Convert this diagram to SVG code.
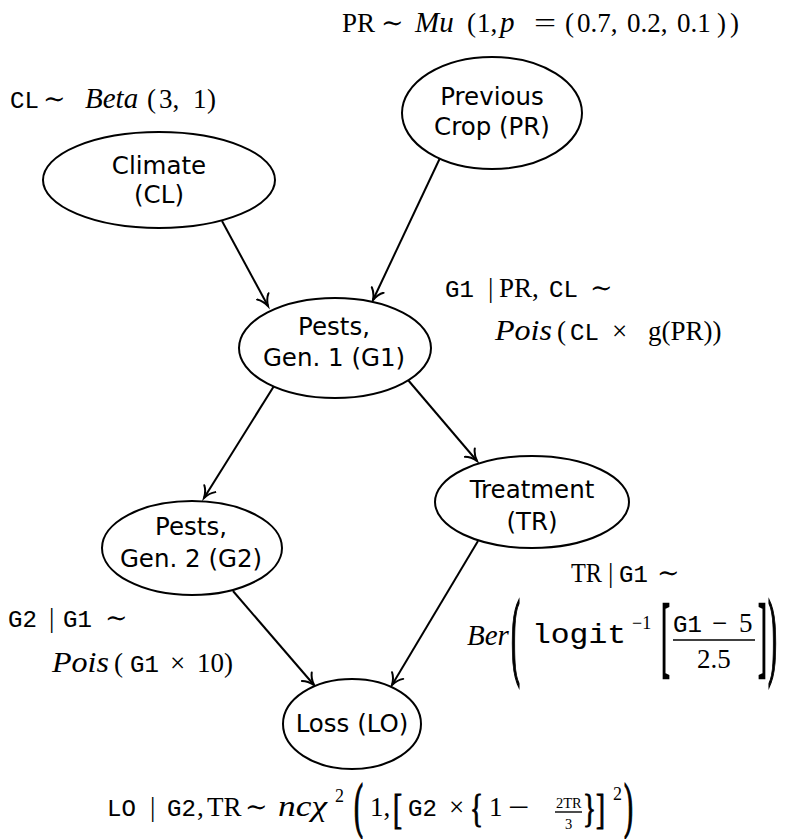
<svg xmlns="http://www.w3.org/2000/svg" width="788" height="839" viewBox="0 0 788 839">
  <style>
    .node ellipse { fill: #ffffff; stroke: #000000; stroke-width: 2; }
    .node text { font-family: "DejaVu Sans", "Noto Sans", sans-serif; font-size: 24.5px; text-anchor: middle; fill: #000000; }
    .edge { stroke: #000000; stroke-width: 2; fill: none; marker-end: url(#arrow); }
    .m text { font-family: "Liberation Serif", "DejaVu Serif", serif; font-size: 27px; fill: #000000; }
    .m text.i { font-style: italic; font-size: 29px; }
    .m text.tt { font-family: "Liberation Mono", "DejaVu Sans Mono", monospace; font-size: 24px; stroke: #000000; stroke-width: 0.12; }
    .m text.sup { font-size: 18px; }
    .m text.small { font-size: 14.5px; }
    .m text.big { stroke: #000000; stroke-width: 0.7; }
    .rule { stroke: #000000; stroke-width: 1.4; }
  </style>
  <defs>
    <marker id="arrow" markerUnits="userSpaceOnUse" markerWidth="16" markerHeight="16" viewBox="-12 -8 16 16" refX="0" refY="0" orient="auto">
      <path d="M-11,-6.5 C-8,-3 -3,-0.8 0,0 C-3,0.8 -8,3 -11,6.5" fill="none" stroke="#000000" stroke-width="2" stroke-linecap="round"/>
    </marker>
  </defs>

  <rect width="788" height="839" fill="#ffffff"/>

  <!-- connectors -->
  <g id="edges">
    <line class="edge" x1="222" y1="221" x2="268" y2="306"/>
    <line class="edge" x1="440" y1="158" x2="373" y2="300"/>
    <line class="edge" x1="274" y1="386" x2="204" y2="498"/>
    <line class="edge" x1="408" y1="380" x2="477" y2="461"/>
    <line class="edge" x1="233" y1="591" x2="314" y2="685"/>
    <line class="edge" x1="478" y1="541" x2="392" y2="685"/>
  </g>

  <!-- nodes -->
  <g id="node-CL" class="node">
    <ellipse cx="159" cy="180" rx="116" ry="48"/>
    <text x="159" y="174">Climate</text>
    <text x="159" y="203">(CL)</text>
  </g>
  <g id="node-PR" class="node">
    <ellipse cx="492" cy="113" rx="90" ry="56"/>
    <text x="492" y="105">Previous</text>
    <text x="492" y="135">Crop (PR)</text>
  </g>
  <g id="node-G1" class="node">
    <ellipse cx="335" cy="348" rx="96" ry="50"/>
    <text x="334" y="335">Pests,</text>
    <text x="334" y="366">Gen. 1 (G1)</text>
  </g>
  <g id="node-TR" class="node">
    <ellipse cx="532" cy="502" rx="97" ry="46"/>
    <text x="532" y="498">Treatment</text>
    <text x="532" y="530">(TR)</text>
  </g>
  <g id="node-G2" class="node">
    <ellipse cx="192" cy="548" rx="90" ry="47"/>
    <text x="191" y="535">Pests,</text>
    <text x="191" y="567">Gen. 2 (G2)</text>
  </g>
  <g id="node-LO" class="node">
    <ellipse cx="352" cy="724" rx="69" ry="45"/>
    <text x="352" y="732">Loss (LO)</text>
  </g>

  <!-- PR ~ Mu(1, p = (0.7, 0.2, 0.1)) -->
  <g id="dist-PR" class="m">
    <text x="342" y="32">PR</text>
    <text x="381" y="32">∼</text>
    <text class="i" x="415" y="32">Mu</text>
    <text x="467" y="32">(</text>
    <text x="477" y="32">1,</text>
    <text class="i" x="500" y="32">p</text>
    <text x="0" y="0" transform="translate(534,32) scale(1.45,1)">=</text>
    <text x="565" y="32">(</text>
    <text x="577" y="32">0.7,</text>
    <text x="627" y="32">0.2,</text>
    <text x="677" y="32">0.1</text>
    <text x="717" y="32">)</text>
    <text x="730" y="32">)</text>
  </g>

  <!-- CL ~ Beta(3, 1) -->
  <g id="dist-CL" class="m">
    <text class="tt" x="10" y="108">CL</text>
    <text x="43" y="108">∼</text>
    <text class="i" x="85" y="108">Beta</text>
    <text x="147" y="108">(</text>
    <text x="159" y="108">3,</text>
    <text x="193" y="108">1</text>
    <text x="207" y="108">)</text>
  </g>

  <!-- G1 | PR, CL ~ Pois(CL x g(PR)) -->
  <g id="dist-G1" class="m">
    <text class="tt" x="445" y="297">G1</text>
    <text x="488" y="297">|</text>
    <text x="499" y="297">PR,</text>
    <text class="tt" x="549" y="297">CL</text>
    <text x="590" y="297">∼</text>
    <text class="i" x="495" y="340" textLength="57" lengthAdjust="spacingAndGlyphs">Pois</text>
    <text x="557" y="340">(</text>
    <text class="tt" x="570" y="340">CL</text>
    <text x="612" y="340">×</text>
    <text x="648" y="340">g(PR))</text>
  </g>

  <!-- G2 | G1 ~ Pois(G1 x 10) -->
  <g id="dist-G2" class="m">
    <text class="tt" x="8" y="627">G2</text>
    <text x="49" y="627">|</text>
    <text class="tt" x="63" y="627">G1</text>
    <text x="105" y="627">∼</text>
    <text class="i" x="52" y="672" textLength="57" lengthAdjust="spacingAndGlyphs">Pois</text>
    <text x="114" y="672">(</text>
    <text class="tt" x="130" y="672">G1</text>
    <text x="170" y="672">×</text>
    <text x="197" y="672">10)</text>
  </g>

  <!-- TR | G1 ~ Ber(logit^-1[(G1 - 5)/2.5]) -->
  <g id="dist-TR" class="m">
    <text x="571" y="582" textLength="31" lengthAdjust="spacingAndGlyphs">TR</text>
    <text x="608" y="582">|</text>
    <text class="tt" x="619" y="582">G1</text>
    <text x="657" y="582">∼</text>
    <text class="i" x="467" y="645">Ber</text>
    <text class="big" x="0" y="0" font-size="28" transform="translate(511,667) scale(1,3.6)">(</text>
    <text class="tt" x="532" y="643" textLength="94" lengthAdjust="spacingAndGlyphs" style="font-size:28px">logit</text>
    <text class="sup" x="632" y="629">−1</text>
    <text class="big" x="0" y="0" font-size="28" transform="translate(661,666) scale(1,3.3)">[</text>
    <text class="tt" x="673" y="632">G1</text>
    <text x="712" y="632">−</text>
    <text x="739" y="632">5</text>
    <line class="rule" x1="673" y1="640" x2="755" y2="640"/>
    <text x="697" y="668">2.5</text>
    <text class="big" x="0" y="0" font-size="28" transform="translate(758,666) scale(1,3.3)">]</text>
    <text class="big" x="0" y="0" font-size="28" transform="translate(768,667) scale(1,3.6)">)</text>
  </g>

  <!-- LO | G2, TR ~ nc chi^2(1, [G2 x {1 - 2TR/3}]^2) -->
  <g id="dist-LO" class="m">
    <text class="tt" x="107" y="816">LO</text>
    <text x="150" y="816">|</text>
    <text class="tt" x="167" y="816">G2</text>
    <text x="197" y="816">,</text>
    <text x="207" y="816">TR</text>
    <text x="245" y="816">∼</text>
    <text class="i" x="278" y="816" textLength="49" lengthAdjust="spacingAndGlyphs">ncχ</text>
    <text class="sup" x="335" y="802">2</text>
    <text class="big" x="0" y="0" font-size="28" transform="translate(354,826) scale(1,2.3)">(</text>
    <text x="370" y="816">1,</text>
    <text class="big" x="0" y="0" font-size="28" transform="translate(393,823) scale(1,1.6)">[</text>
    <text class="tt" x="408" y="816">G2</text>
    <text x="449" y="816">×</text>
    <text class="big" x="0" y="0" font-size="28" transform="translate(470,822) scale(1,1.5)">{</text>
    <text x="489" y="816">1</text>
    <text x="0" y="0" transform="translate(508,816) scale(1.4,1)">−</text>
    <text class="small" x="556" y="808">2TR</text>
    <line class="rule" x1="555" y1="812" x2="582" y2="812"/>
    <text class="small" x="565" y="829">3</text>
    <text class="big" x="0" y="0" font-size="28" transform="translate(583,822) scale(1,1.5)">}</text>
    <text class="big" x="0" y="0" font-size="28" transform="translate(596,823) scale(1,1.6)">]</text>
    <text class="sup" x="613" y="800">2</text>
    <text class="big" x="0" y="0" font-size="28" transform="translate(624,826) scale(1,2.3)">)</text>
  </g>
</svg>
